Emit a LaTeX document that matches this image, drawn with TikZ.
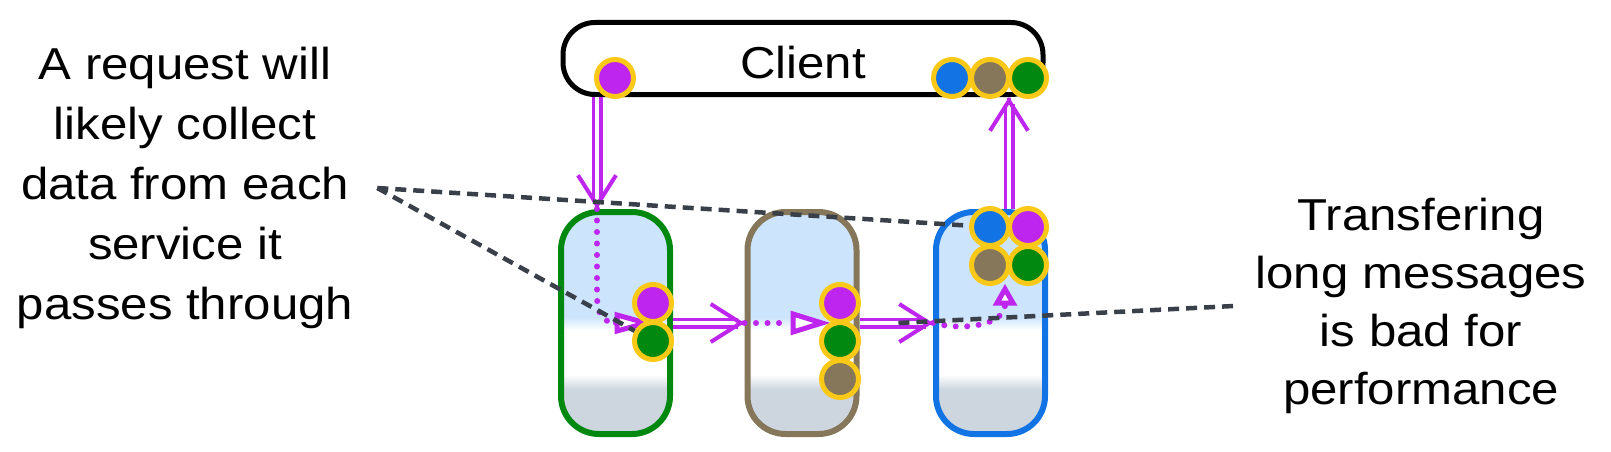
\documentclass[tikz,border=0pt]{standalone}
\usepackage{fontspec}
\setmainfont{Liberation Sans}[FakeStretch=1.1]
\usetikzlibrary{positioning,arrows.meta,calc}

\definecolor{reqpurple}{RGB}{190,38,240}
\definecolor{ringgold}{RGB}{250,200,22}
\definecolor{svcgreen}{RGB}{0,136,16}
\definecolor{svcbrown}{RGB}{134,119,90}
\definecolor{svcblue}{RGB}{18,116,228}
\definecolor{svcsky}{RGB}{204,228,252}
\definecolor{svcfog}{RGB}{205,213,222}
\definecolor{notegray}{RGB}{58,64,74}

\pgfdeclareverticalshading{svcshade}{100bp}{color(0bp)=(svcfog); color(35bp)=(svcfog);
  color(38.4bp)=(white); color(48.4bp)=(white); color(51.4bp)=(svcsky); color(100bp)=(svcsky)}

\begin{document}
\begin{tikzpicture}[
  x=1pt, y=-1pt,
  every node/.style={font=\fontsize{44.7pt}{60pt}\selectfont},
  svc/.style={draw, line width=6pt, rounded corners=38pt, minimum width=109pt,
    minimum height=222pt, shading=svcshade},
  dot/.style={circle, draw=ringgold, line width=5pt, minimum size=37pt, inner sep=0pt},
  pipe/.style={draw=reqpurple, line width=3.5pt, double=white, double distance=4pt, shorten >=7pt},
  barb/.style={draw=reqpurple, line width=4pt, -{Straight Barb[length=30pt, width=38pt]}},
  flow/.style={draw=reqpurple, line width=6pt, line cap=round, dash pattern=on 0pt off 11.5pt},
  tri/.style={draw=reqpurple, fill=white, line width=5pt, line join=miter},
  note/.style={draw=notegray, line width=4.5pt, dash pattern=on 11pt off 7pt}
]
\useasboundingbox (0,0) rectangle (1611,452);

%% ── Column x-positions ───────────────────────────────────────────────
\def\xA{615.5}  % first service
\def\xB{802}    % second service
\def\xC{990.5}  % third service
\def\yS{323}    % service row

%% ── Side notes ───────────────────────────────────────────────────────
\node[align=center, inner xsep=24pt] (req) at (185,188)
    {A request will\\likely collect\\data from each\\service it\\passes through};
\node[align=center, inner xsep=22pt, font=\fontsize{44.7pt}{58pt}\selectfont] (perf) at (1421,306)
    {Transfering\\long messages\\is bad for\\performance};

%% ── Client ───────────────────────────────────────────────────────────
\node[draw, line width=5pt, rounded corners=32pt, fill=white, minimum width=480pt,
    minimum height=72pt, text height=40pt] (client) at (803,58.5) {Client};

%% ── Services ─────────────────────────────────────────────────────────
\node[svc, draw=svcgreen] (svcA) at (\xA,\yS) {};
\node[svc, draw=svcbrown] (svcB) at (\xB,\yS) {};
\node[svc, draw=svcblue]  (svcC) at (\xC,\yS) {};

\coordinate (inA)  at ([xshift=-18.5pt]svcA.north);
\coordinate (outC) at ([xshift=18.5pt]svcC.north);
\coordinate (topC) at (client.south -| outC);
\coordinate (tipA) at (646,323);
\coordinate (tipB) at (822,323);
\coordinate (tipC) at (1005,289);

%% ── Request path inside each service (dotted) ────────────────────────
\draw[flow] (inA) -- ++(0,86)
    .. controls +(0,22) and +(-12,0) .. ++(20,28) -- (614,323);
\draw[tri] (tipA) -- ++(-29,-8) -- ++(0,16) -- cycle;
\draw[flow] (svcB.west) -- (790,323);
\draw[tri] (tipB) -- ++(-29,-9) -- ++(0,18) -- cycle;
\draw[flow] (svcC.west)
    .. controls +(35,9) and +(0,18) .. (1005,305);
\draw[tri] (tipC) -- ++(-8,14) -- ++(16,0) -- cycle;

%% ── Calls between client and services (double) ───────────────────────
\draw[pipe] (client.south -| inA) -- (inA);
\draw[barb] ([yshift=1pt]inA) -- (inA);

\draw[pipe] (svcA.east) -- (svcB.west);
\draw[barb] ([xshift=-1pt]svcB.west) -- (svcB.west);

\draw[pipe] (svcB.east) -- coordinate[pos=0.53] (msg) (svcC.west);
\draw[barb] ([xshift=-1pt]svcC.west) -- (svcC.west);

\draw[pipe] (outC) -- (topC);
\draw[barb] ([yshift=-1pt]topC) -- (topC);

%% ── Collected data ───────────────────────────────────────────────────
\node[dot, fill=reqpurple] (clP) at (615,78) {};
\node[dot, fill=svcblue]   (clB) at (952,78) {};
\node[dot, fill=svcbrown]  (clN) at (990,78) {};
\node[dot, fill=svcgreen]  (clG) at (1028,78) {};

\node[dot, fill=reqpurple] (aP) at (653,303) {};
\node[dot, fill=svcgreen]  (aG) at (653,341) {};

\node[dot, fill=reqpurple] (bP) at (840,303) {};
\node[dot, fill=svcgreen]  (bG) at (840,341) {};
\node[dot, fill=svcbrown]  (bN) at (840,379) {};

\node[dot, fill=svcblue]   (cB) at (990,227) {};
\node[dot, fill=reqpurple] (cP) at (1028,227) {};
\node[dot, fill=svcbrown]  (cN) at (990,265) {};
\node[dot, fill=svcgreen]  (cG) at (1028,265) {};

%% ── Note pointers (dashed) ───────────────────────────────────────────
\draw[note] (req.east) -- (aG);
\draw[note] (req.east) -- (cB);
\draw[note] (msg) -- (perf.west);

\end{tikzpicture}
\end{document}
